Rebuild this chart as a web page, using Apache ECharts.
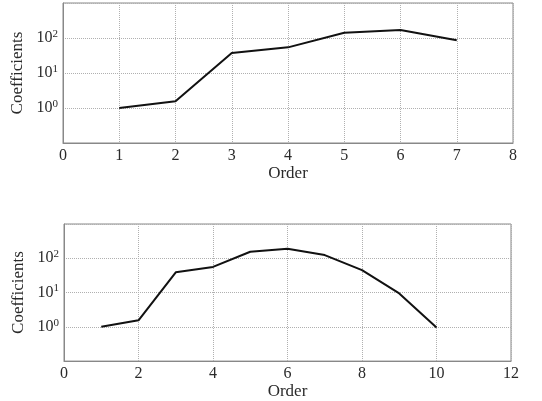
<!DOCTYPE html>
<html>
<head>
<meta charset="utf-8">
<script src="https://cdn.jsdelivr.net/npm/echarts@6/dist/echarts.min.js"></script>
<style>html,body{margin:0;padding:0;background:#fff}#c{width:542px;height:401px}</style>
</head>
<body>
<div id="c"></div>
<script>
var topOrders = [1, 2, 3, 4, 5, 6, 7];
var topCoefficients = [1.0, 1.55, 37, 54, 142, 169, 86];
var bottomOrders = [1, 2, 3, 4, 5, 6, 7, 8, 9, 10];
var bottomCoefficients = [1.0, 1.55, 39, 56, 155, 190, 124, 45, 9.4, 0.95];
var xAxisName = 'Order';
var yAxisName = 'Coefficients';
var labeledExponents = [0, 1, 2];

var FONT = '"Liberation Serif", "DejaVu Serif", serif';
var TXT = '#2a2a2a';
var chart = echarts.init(document.getElementById('c'), null, {renderer: 'canvas'});

function yFmt(v) {
  var e = Math.round(Math.log10(v));
  if (labeledExponents.indexOf(e) < 0) return '';
  return '{b|10}{s|' + e + '}';
}
function makeX(idx, max, interval) {
  return {
    type: 'value', gridIndex: idx, min: 0, max: max, interval: interval,
    name: xAxisName, nameLocation: 'middle', nameGap: 20,
    nameTextStyle: {fontFamily: FONT, fontSize: 17, color: TXT},
    axisLine: {show: true, onZero: false, lineStyle: {color: '#888', width: 1}},
    axisTick: {show: false},
    axisLabel: {fontFamily: FONT, fontSize: 16, color: TXT, margin: 5},
    splitLine: {show: true, lineStyle: {color: '#b0b0b0', type: [1, 1], width: 1}}
  };
}
function makeY(idx) {
  return {
    type: 'log', logBase: 10, gridIndex: idx, min: 0.1, max: 1000,
    name: yAxisName, nameLocation: 'middle', nameGap: 32,
    nameTextStyle: {fontFamily: FONT, fontSize: 17, color: TXT},
    axisLine: {show: true, lineStyle: {color: '#888', width: 1}},
    axisTick: {show: false},
    minorTick: {show: false},
    axisLabel: {
      formatter: yFmt, margin: 5,
      rich: {
        b: {fontFamily: FONT, fontSize: 16, color: TXT},
        s: {fontFamily: FONT, fontSize: 11, color: TXT, verticalAlign: 'top', padding: [0, 0, 8, 0]}
      }
    },
    splitLine: {show: true, lineStyle: {color: '#b0b0b0', type: [1, 1], width: 1}}
  };
}
function pairs(xs, ys) { return xs.map(function (x, i) { return [x, ys[i]]; }); }

chart.setOption({
  animation: false,
  backgroundColor: '#fff',
  grid: [
    {left: 63, right: 29, top: 3, height: 140, show: true, borderColor: '#888', borderWidth: 1, backgroundColor: 'transparent'},
    {left: 64, right: 31, top: 224, height: 140, show: true, borderColor: '#888', borderWidth: 1, backgroundColor: 'transparent'}
  ],
  xAxis: [makeX(0, 8, 1), makeX(1, 12, 2)],
  yAxis: [makeY(0), makeY(1)],
  series: [
    {type: 'line', xAxisIndex: 0, yAxisIndex: 0, data: pairs(topOrders, topCoefficients), showSymbol: false, lineStyle: {color: '#111', width: 2}},
    {type: 'line', xAxisIndex: 1, yAxisIndex: 1, data: pairs(bottomOrders, bottomCoefficients), showSymbol: false, lineStyle: {color: '#111', width: 2}}
  ]
});
</script>
</body>
</html>
